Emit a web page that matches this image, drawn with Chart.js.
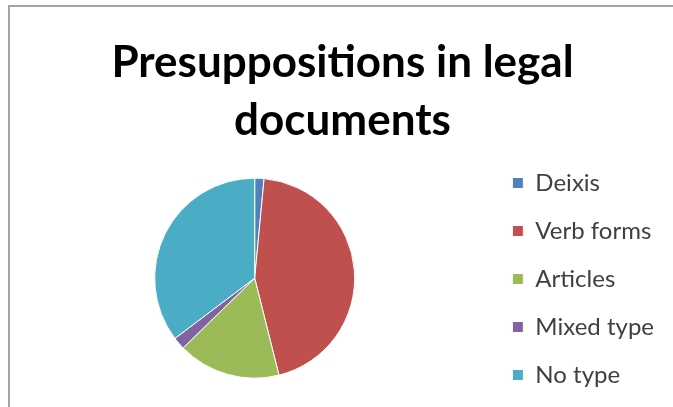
<!DOCTYPE html>
<html>
<head>
<meta charset="utf-8">
<script src="https://cdn.jsdelivr.net/npm/chart.js@4"></script>
<style>
  html, body { margin: 0; padding: 0; background: #fff; overflow: hidden; }
  #frame {
    position: absolute; left: 8px; top: 5px;
    width: 670px; height: 410px;
    border-left: 2px solid #a3a3a3;
    border-top: 2px solid #a3a3a3;
  }
  #pie-chart { position: absolute; left: 10px; top: 7px; }
</style>
</head>
<body>
<div id="frame"></div>
<canvas id="pie-chart" width="663" height="404"></canvas>
<script>
// data (share of each presupposition type)
var labels = ["Deixis", "Verb forms", "Articles", "Mixed type", "No type"];
var values = [1.5, 44.6, 16.6, 2.0, 35.3];
var colors = ["#4F81BD", "#C0504D", "#9BBB59", "#8064A2", "#4BACC6"];
var titleLines = ["Presuppositions in legal", "documents"];

var data = {
  labels: labels,
  datasets: [
    { data: values, backgroundColor: colors, borderColor: "#ffffff", borderWidth: 1, radius: 100 },
  ],
};

var options = {
  responsive: false,
  animation: false,
  events: [],
  layout: { padding: { left: 11, top: 0, right: 9, bottom: 0 } },
  plugins: {
    title: {
      display: true,
      text: titleLines,
      color: "#000",
      font: { family: "Lato", size: 44, weight: "bold", lineHeight: 1.31 },
      padding: { top: 27, bottom: -4 },
    },
    legend: {
      position: "right",
      align: "end",
      labels: {
        color: "#404040",
        font: { family: "Lato", size: 24 },
        boxWidth: 11,
        boxHeight: 11,
        padding: 24,
      },
    },
    tooltip: { enabled: false },
  },
};

const ctx = document.getElementById("pie-chart").getContext("2d");
const myPieChart = new Chart(ctx, { type: "pie", data: data, options: options });
</script>
</body>
</html>
